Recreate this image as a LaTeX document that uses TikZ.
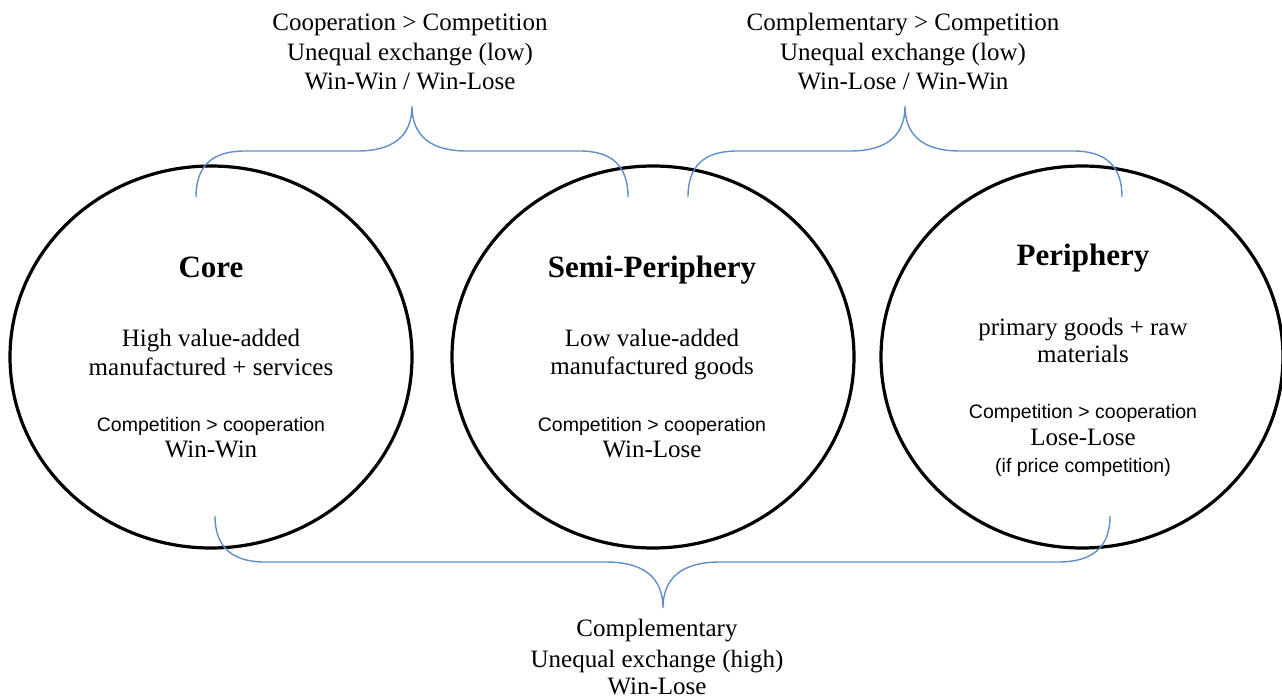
\documentclass[tikz,border=0pt]{standalone}
\usepackage{fontspec}
\setmainfont{Liberation Serif}
\newfontfamily\smallsans{Liberation Sans}
\usetikzlibrary{shapes.geometric}
\definecolor{bracecol}{HTML}{5F8FC9}
\tikzset{
  zone/.style={draw=black, line width=3.2pt, ellipse, minimum width=402pt, minimum height=382pt, inner sep=0pt},
  brace/.style={draw=bracecol, line width=1.4pt},
  ln/.style={anchor=base, inner sep=0pt, font=\fontsize{25}{30}\selectfont},
  ttl/.style={anchor=base, inner sep=0pt, font=\fontsize{31}{36}\selectfont\bfseries},
  sml/.style={anchor=base, inner sep=0pt, font=\smallsans\fontsize{19.5}{23}\selectfont}
}
\begin{document}
\begin{tikzpicture}[x=1pt, y=-1pt]
\useasboundingbox[fill=white] (0,0) rectangle (1282,699);

% circles
\node[zone] (core) at (211,357) {};
\node[zone] (semi) at (653,357) {};
\node[zone] (peri) at (1082,357) {};

% core text
\node[ttl] (coreT) at (211,277) {Core};
\node[ln] (coreA) at (211,346) {High value-added};
\node[ln] (coreB) at (211,375) {manufactured + services};
\node[sml] (coreC) at (211,431) {Competition > cooperation};
\node[ln] (coreD) at (211,457) {Win-Win};

% semi text
\node[ttl] (semiT) at (652,277) {Semi-Periphery};
\node[ln] (semiA) at (652,346) {Low value-added};
\node[ln] (semiB) at (652,374) {manufactured goods};
\node[sml] (semiC) at (652,431) {Competition > cooperation};
\node[ln] (semiD) at (652,457) {Win-Lose};

% periphery text
\node[ttl] (periT) at (1083,265) {Periphery};
\node[ln] (periA) at (1083,335) {primary goods + raw};
\node[ln] (periB) at (1083,362) {materials};
\node[sml] (periC) at (1083,418) {Competition > cooperation};
\node[ln] (periD) at (1083,445) {Lose-Lose};
\node[sml] (periE) at (1083,472) {(if price competition)};

% top-left label
\node[ln] (tlA) at (410,30) {Cooperation > Competition};
\node[ln] (tlB) at (410,60) {Unequal exchange (low)};
\node[ln] (tlC) at (410,89) {Win-Win / Win-Lose};

% top-right label
\node[ln] (trA) at (903,30) {Complementary > Competition};
\node[ln] (trB) at (903,60) {Unequal exchange (low)};
\node[ln] (trC) at (903,89) {Win-Lose / Win-Win};

% bottom label
\node[ln] (btA) at (657,636) {Complementary};
\node[ln] (btB) at (657,667) {Unequal exchange (high)};
\node[ln] (btC) at (657,694) {Win-Lose};

% brace coordinates
\coordinate (tlL) at (196,197);
\coordinate (tlTip) at (412,106);
\coordinate (tlR) at (628,197);
\coordinate (trL) at (688,197);
\coordinate (trTip) at (905,106);
\coordinate (trR) at (1122,197);
\coordinate (btL) at (215,516);
\coordinate (btTip) at (663,608);
\coordinate (btR) at (1110,516);

% top-left brace
\draw[brace] (tlL) .. controls (196,166) and (212,151) .. (245,151) -- (357,151)
  .. controls (392,151) and (412,137) .. (tlTip)
  .. controls (412,137) and (432,151) .. (467,151) -- (580,151)
  .. controls (612,151) and (628,166) .. (tlR);
% top-right brace
\draw[brace] (trL) .. controls (688,166) and (704,151) .. (737,151) -- (850,151)
  .. controls (885,151) and (905,137) .. (trTip)
  .. controls (905,137) and (925,151) .. (960,151) -- (1073,151)
  .. controls (1106,151) and (1122,166) .. (trR);
% bottom brace
\draw[brace] (btL) .. controls (215,547) and (232,562) .. (265,562) -- (606,562)
  .. controls (643,562) and (663,577) .. (btTip)
  .. controls (663,577) and (683,562) .. (720,562) -- (1058,562)
  .. controls (1093,562) and (1110,547) .. (btR);
\end{tikzpicture}
\end{document}
